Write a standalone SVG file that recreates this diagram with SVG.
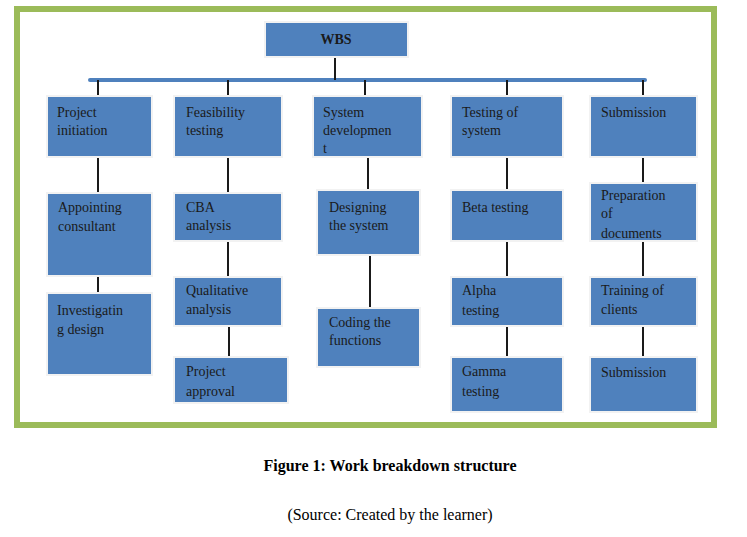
<svg xmlns="http://www.w3.org/2000/svg" width="747" height="537" viewBox="0 0 747 537">
<style>
.b{fill:#4f81bd;stroke:#f2f2f2;stroke-width:2}
.t{font-family:"Liberation Serif",serif;font-size:14px;fill:#1a1a1a}
.c{stroke:#1a1a1a;stroke-width:2;fill:none}
</style>
<defs>
<clipPath id="c1"><rect x="313" y="96" width="109" height="61"/></clipPath>
<clipPath id="c2"><rect x="174" y="357" width="114" height="46"/></clipPath>
<clipPath id="c3"><rect x="590" y="183" width="107" height="58"/></clipPath>
</defs>
<rect x="0" y="0" width="747" height="537" fill="#fff"/>
<rect x="17" y="9" width="697" height="416" fill="#fff" stroke="#9bbb59" stroke-width="6"/>
<g id="connectors">
<line x1="90" y1="80" x2="645" y2="80" stroke="#4f81bd" stroke-width="4" stroke-linecap="round"/>
<line class="c" x1="335" y1="57" x2="335" y2="80"/>
<line class="c" x1="98" y1="80" x2="98" y2="96"/>
<line class="c" x1="228" y1="80" x2="228" y2="96"/>
<line class="c" x1="365" y1="80" x2="365" y2="96"/>
<line class="c" x1="507" y1="80" x2="507" y2="96"/>
<line class="c" x1="643" y1="80" x2="643" y2="96"/>
<line class="c" x1="98" y1="157" x2="98" y2="193"/>
<line class="c" x1="98" y1="276" x2="98" y2="293"/>
<line class="c" x1="228" y1="157" x2="228" y2="193"/>
<line class="c" x1="228" y1="241" x2="228" y2="277"/>
<line class="c" x1="229" y1="326" x2="229" y2="357"/>
<line class="c" x1="368" y1="157" x2="368" y2="190"/>
<line class="c" x1="370" y1="255" x2="370" y2="308"/>
<line class="c" x1="507" y1="157" x2="507" y2="190"/>
<line class="c" x1="507" y1="241" x2="507" y2="277"/>
<line class="c" x1="507" y1="326" x2="507" y2="357"/>
<line class="c" x1="643" y1="157" x2="643" y2="183"/>
<line class="c" x1="643" y1="241" x2="643" y2="277"/>
<line class="c" x1="643" y1="326" x2="643" y2="357"/>
</g>
<g id="wbs"><rect class="b" x="265" y="22" width="143" height="35"/><text class="t" x="336" y="44" text-anchor="middle" font-weight="bold">WBS</text></g>
<g id="n1"><rect class="b" x="47" y="96" width="105" height="61"/><text class="t" x="57" y="117">Project</text><text class="t" x="57" y="135">initiation</text></g>
<g id="n2"><rect class="b" x="47" y="193" width="105" height="83"/><text class="t" x="58" y="212">Appointing</text><text class="t" x="58" y="231">consultant</text></g>
<g id="n3"><rect class="b" x="47" y="293" width="105" height="82"/><text class="t" x="57" y="315">Investigatin</text><text class="t" x="57" y="334">g design</text></g>
<g id="n4"><rect class="b" x="174" y="96" width="108" height="61"/><text class="t" x="186" y="117">Feasibility</text><text class="t" x="186" y="135">testing</text></g>
<g id="n5"><rect class="b" x="174" y="193" width="108" height="48"/><text class="t" x="186" y="212">CBA</text><text class="t" x="186" y="230">analysis</text></g>
<g id="n6"><rect class="b" x="174" y="277" width="108" height="49"/><text class="t" x="186" y="295">Qualitative</text><text class="t" x="186" y="314">analysis</text></g>
<g id="n7"><rect class="b" x="174" y="357" width="114" height="46"/><g clip-path="url(#c2)"><text class="t" x="186" y="376">Project</text><text class="t" x="186" y="396">approval</text></g></g>
<g id="n8"><rect class="b" x="313" y="96" width="109" height="61"/><g clip-path="url(#c1)"><text class="t" x="323" y="117">System</text><text class="t" x="323" y="135">developmen</text><text class="t" x="323" y="153">t</text></g></g>
<g id="n9"><rect class="b" x="317" y="190" width="103" height="65"/><text class="t" x="329" y="212">Designing</text><text class="t" x="329" y="230">the system</text></g>
<g id="n10"><rect class="b" x="317" y="308" width="103" height="59"/><text class="t" x="329" y="327">Coding the</text><text class="t" x="329" y="345">functions</text></g>
<g id="n11"><rect class="b" x="451" y="96" width="112" height="61"/><text class="t" x="462" y="117">Testing of</text><text class="t" x="462" y="135">system</text></g>
<g id="n12"><rect class="b" x="451" y="190" width="112" height="51"/><text class="t" x="462" y="212">Beta testing</text></g>
<g id="n13"><rect class="b" x="451" y="277" width="112" height="49"/><text class="t" x="462" y="295">Alpha</text><text class="t" x="462" y="315">testing</text></g>
<g id="n14"><rect class="b" x="451" y="357" width="112" height="55"/><text class="t" x="462" y="376">Gamma</text><text class="t" x="462" y="396">testing</text></g>
<g id="n15"><rect class="b" x="590" y="96" width="107" height="61"/><text class="t" x="601" y="117">Submission</text></g>
<g id="n16"><rect class="b" x="590" y="183" width="107" height="58"/><g clip-path="url(#c3)"><text class="t" x="601" y="200">Preparation</text><text class="t" x="601" y="218">of</text><text class="t" x="601" y="238">documents</text></g></g>
<g id="n17"><rect class="b" x="590" y="277" width="107" height="49"/><text class="t" x="601" y="295">Training of</text><text class="t" x="601" y="314">clients</text></g>
<g id="n18"><rect class="b" x="590" y="357" width="107" height="55"/><text class="t" x="601" y="377">Submission</text></g>
<text x="390" y="471" text-anchor="middle" font-family="Liberation Serif,serif" font-size="16" font-weight="bold">Figure 1: Work breakdown structure</text>
<text x="390" y="520" text-anchor="middle" font-family="Liberation Serif,serif" font-size="16">(Source: Created by the learner)</text>
</svg>
